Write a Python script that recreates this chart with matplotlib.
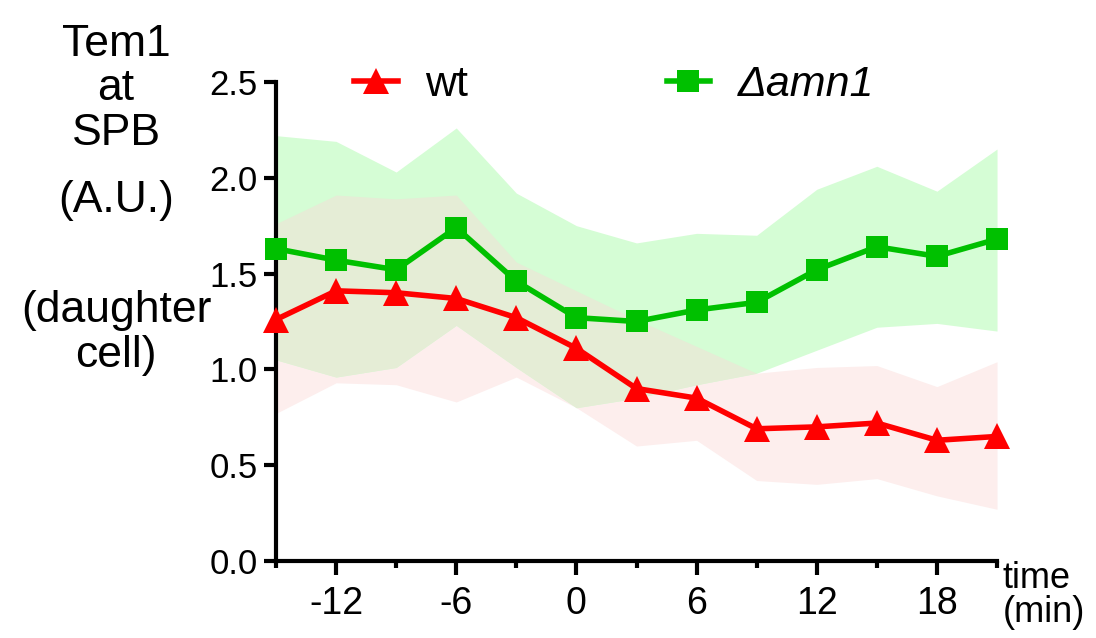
import numpy as np
import matplotlib
matplotlib.use("Agg")
import matplotlib.pyplot as plt
from matplotlib.ticker import MultipleLocator

plt.rcParams['font.family'] = ['Liberation Sans', 'DejaVu Sans']
plt.rcParams['axes.unicode_minus'] = False

time = [-15, -12, -9, -6, -3, 0, 3, 6, 9, 12, 15, 18, 21]

wt_mean = [1.26, 1.41, 1.40, 1.37, 1.27, 1.11, 0.90, 0.85, 0.69, 0.70, 0.72, 0.63, 0.65]
wt_upper = [1.76, 1.91, 1.89, 1.91, 1.56, 1.41, 1.26, 1.12, 0.98, 1.01, 1.02, 0.91, 1.04]
wt_lower = [0.77, 0.93, 0.92, 0.83, 0.96, 0.80, 0.60, 0.63, 0.42, 0.40, 0.43, 0.34, 0.27]

amn_mean = [1.63, 1.57, 1.52, 1.74, 1.46, 1.27, 1.25, 1.31, 1.35, 1.52, 1.64, 1.59, 1.68]
amn_upper = [2.22, 2.19, 2.03, 2.26, 1.92, 1.75, 1.66, 1.71, 1.70, 1.94, 2.06, 1.93, 2.15]
amn_lower = [1.05, 0.96, 1.01, 1.23, 1.01, 0.80, 0.85, 0.92, 0.98, 1.10, 1.22, 1.24, 1.20]

x_ticks = [-12, -6, 0, 6, 12, 18]
y_ticks = [0.0, 0.5, 1.0, 1.5, 2.0, 2.5]

ylabel_lines = ["Tem1", "at", "SPB", "(A.U.)", "(daughter", "cell)"]
narrow = ['Liberation Sans Narrow', 'Liberation Sans']

fig = plt.figure(figsize=(10.96, 6.38), dpi=100)
ax = fig.add_axes([0.2518, 0.1207, 0.6579, 0.7508])

t = np.array(time)
wl, wu = np.array(wt_lower), np.array(wt_upper)
al, au = np.array(amn_lower), np.array(amn_upper)

ax.fill_between(t, wl, wu, color='#fdeeed', lw=0)
ax.fill_between(t, al, au, color='#d5fdd5', lw=0)
lo = np.maximum(wl, al)
hi = np.minimum(wu, au)
ax.fill_between(t, lo, hi, where=hi > lo, interpolate=True, color='#e5edd6', lw=0)

ax.plot(time, wt_mean, color='#ff0000', lw=4, marker='^', ms=19,
        markeredgewidth=0, label='wt', clip_on=False, zorder=5)
ax.plot(time, amn_mean, color='#00c000', lw=4, marker='s', ms=16,
        markeredgewidth=0, label='Δamn1', clip_on=False, zorder=5)

ax.set_xlim(-15, 21)
ax.set_ylim(0, 2.5)
ax.set_xticks(x_ticks)
ax.xaxis.set_minor_locator(MultipleLocator(3))
ax.set_yticks(y_ticks)
ax.set_yticklabels([f"{v:.1f}" for v in y_ticks])

for s in ['top', 'right']:
    ax.spines[s].set_visible(False)
for s in ['left', 'bottom']:
    ax.spines[s].set_linewidth(3)

ax.tick_params(axis='y', which='major', length=9, width=3, labelsize=25, pad=4)
ax.tick_params(axis='x', which='major', length=10, width=3, labelsize=27, pad=8)
ax.tick_params(axis='x', which='minor', length=5, width=3)
for lab in ax.get_xticklabels():
    lab.set_fontfamily(narrow)

leg = ax.legend(loc='lower left', bbox_to_anchor=(0.085, 0.915), ncol=2,
                frameon=False, fontsize=31, handlelength=1.0, handletextpad=0.65,
                columnspacing=4.6, borderaxespad=0)
leg.get_texts()[1].set_fontstyle('italic')

ylabel_y = [0.930, 0.862, 0.791, 0.686, 0.514, 0.443]
for txt, yy in zip(ylabel_lines, ylabel_y):
    fig.text(0.106, yy, txt, ha='center', va='center', fontsize=32)

fig.text(0.915, 0.067, "time\n(min)", ha='left', va='center', fontsize=26,
         family=narrow, linespacing=0.95)

fig.savefig("out.png", dpi=100)
